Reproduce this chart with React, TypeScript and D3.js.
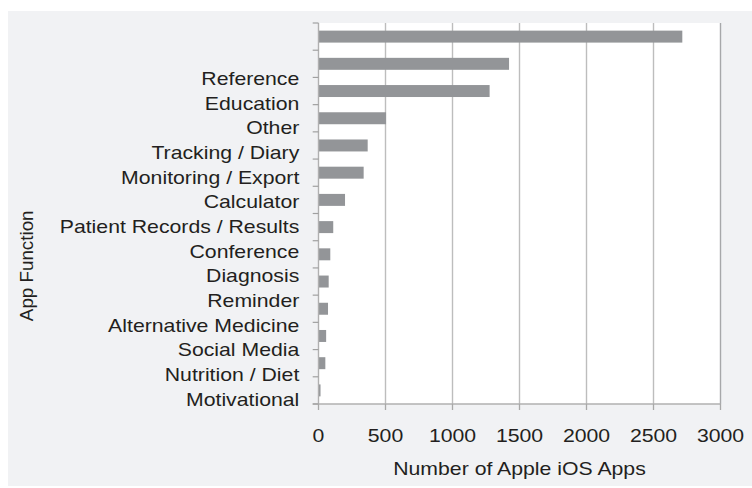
import React from "react";
import * as d3 from "d3";

const categories = [
  "Reference",
  "Education",
  "Other",
  "Tracking / Diary",
  "Monitoring / Export",
  "Calculator",
  "Patient Records / Results",
  "Conference",
  "Diagnosis",
  "Reminder",
  "Alternative Medicine",
  "Social Media",
  "Nutrition / Diet",
  "Motivational",
];
const values = [2715, 1422, 1277, 504, 367, 337, 198, 110, 88, 76, 71, 57, 51, 15];
const xTicks = [0, 500, 1000, 1500, 2000, 2500, 3000];
const xTitle = "Number of Apple iOS Apps";
const yTitle = "App Function";

const W = 752;
const H = 488;
const plot = { left: 318.5, right: 720.5, top: 23, bottom: 404 };
const FS = 18.8;
const SX = 1.13;
const TEXT = "#231f20";
const FONT = "'Liberation Sans', Arial, Helvetica, sans-serif";

export default function App() {
  const x = d3.scaleLinear().domain([0, 3000]).range([plot.left, plot.right]);
  const y = d3
    .scaleBand<string>()
    .domain(categories)
    .range([plot.top, plot.bottom])
    .paddingInner(0.56)
    .paddingOuter(0.28);
  const labelY = d3.scalePoint<string>().domain(categories).range([85, 405.7]);
  const step = y.step();
  const boundaries = d3.range(categories.length + 1).map((k) => plot.top + k * step);

  return (
    <svg
      width={W}
      height={H}
      style={{ position: "absolute", left: 0, top: 0, display: "block" }}
      fontFamily={FONT}
    >
      <rect x={0} y={0} width={W} height={H} fill="#ffffff" />
      <rect x={8} y={11} width={W - 8} height={486 - 11} fill="#f1f2f4" />
      <rect
        x={plot.left}
        y={plot.top}
        width={plot.right - plot.left}
        height={plot.bottom - plot.top}
        fill="#ffffff"
      />
      {xTicks
        .filter((t) => t > 0)
        .map((t) => (
          <line
            key={"g" + t}
            x1={x(t)}
            x2={x(t)}
            y1={plot.top}
            y2={plot.bottom}
            stroke={t === 3000 ? "#a7a8aa" : "#bdbdbd"}
            strokeWidth={1.4}
          />
        ))}
      {categories.map((c, i) => (
        <rect
          key={c}
          x={x(0)}
          y={y(c)!}
          width={x(values[i]) - x(0)}
          height={y.bandwidth()}
          fill="#939598"
        />
      ))}
      <line x1={plot.left} x2={plot.left} y1={plot.top} y2={plot.bottom} stroke="#b0b0b0" strokeWidth={1.4} />
      <line x1={312.7} x2={plot.right} y1={plot.bottom} y2={plot.bottom} stroke="#b0b0b0" strokeWidth={1.4} />
      {boundaries.map((b, k) => (
        <line key={"yt" + k} x1={312.7} x2={plot.left} y1={b} y2={b} stroke="#a0a0a0" strokeWidth={1.2} />
      ))}
      {xTicks.map((t) => (
        <line key={"xt" + t} x1={x(t)} x2={x(t)} y1={plot.bottom} y2={plot.bottom + 6} stroke="#a8a8a8" strokeWidth={1.3} />
      ))}
      {categories.map((c) => (
        <text
          key={"l" + c}
          transform={`translate(299.3,${labelY(c)}) scale(${SX},1)`}
          textAnchor="end"
          fontSize={FS}
          fill={TEXT}
        >
          {c}
        </text>
      ))}
      {xTicks.map((t) => (
        <text
          key={"xl" + t}
          transform={`translate(${x(t)},441.7) scale(${SX},1)`}
          textAnchor="middle"
          fontSize={FS}
          fill={TEXT}
        >
          {t}
        </text>
      ))}
      <text
        transform={`translate(${(plot.left + plot.right) / 2},475) scale(${SX},1)`}
        textAnchor="middle"
        fontSize={FS}
        fill={TEXT}
      >
        {xTitle}
      </text>
      <text
        transform={`translate(33.3,265.8) rotate(-90)`}
        textAnchor="middle"
        fontSize={FS}
        fill={TEXT}
      >
        {yTitle}
      </text>
    </svg>
  );
}
